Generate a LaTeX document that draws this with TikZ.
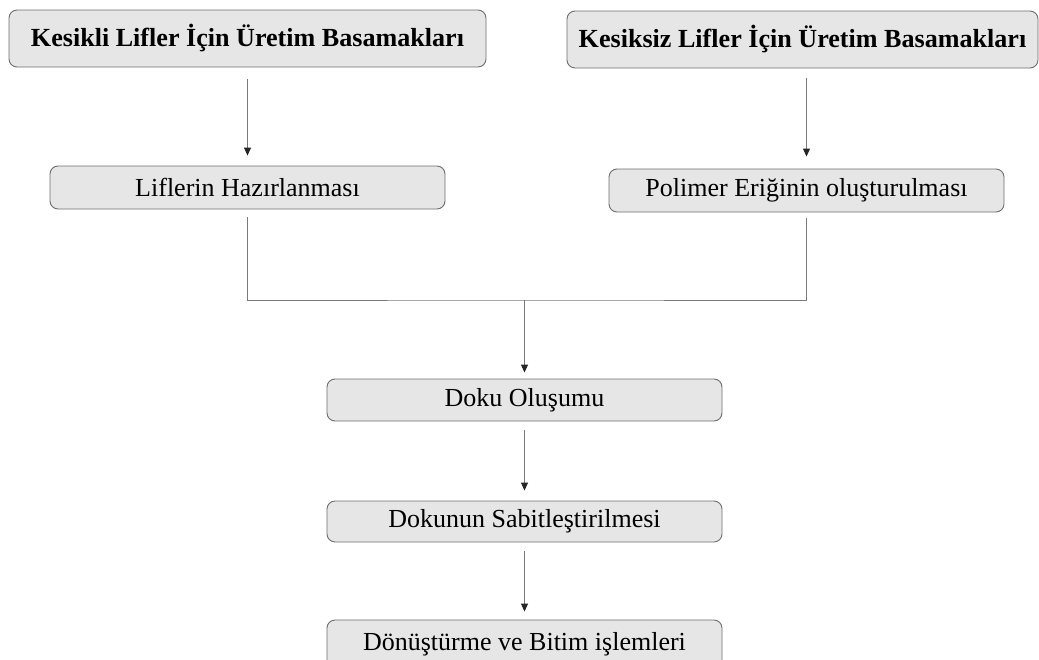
\documentclass[tikz,border=0pt]{standalone}
\usepackage{fontspec}
\setmainfont{Liberation Serif}
\usetikzlibrary{arrows.meta}
\definecolor{boxfill}{HTML}{E6E6E6}
\definecolor{boxline}{HTML}{6E6E6E}
\definecolor{wire}{HTML}{7A7A7A}
\tikzset{
  stagebox/.style={draw=boxline, line width=0.9pt, fill=boxfill, rounded corners=8pt,
    minimum width=395pt, minimum height=42pt, inner sep=0pt, font=\fontsize{26}{30}\selectfont},
  headbox/.style={stagebox, minimum height=57pt, font=\fontsize{26.1}{30}\selectfont\bfseries},
  wireline/.style={draw=wire, line width=1pt},
  flowarrow/.style={wireline, -{Triangle[length=8pt,width=7pt,color=black!85]}},
}
\begin{document}
\begin{tikzpicture}[x=1pt,y=-1pt]
  \useasboundingbox (0,0) rectangle (1039,659);
  % top row: the two production routes
  \node[headbox, minimum width=477pt] (b1) at (247.5,38.5) {Kesikli Lifler İçin Üretim Basamakları};
  \node[headbox, minimum width=471pt] (b2) at (802.5,39.5) {Kesiksiz Lifler İçin Üretim Basamakları};
  % preparation steps
  \node[stagebox, minimum height=43pt] (b3) at (247.5,187.5) {Liflerin Hazırlanması};
  \node[stagebox, minimum height=43pt] (b4) at (806.5,190.5) {Polimer Eriğinin oluşturulması};
  % common steps
  \node[stagebox] (b5) at (524.5,400) {Doku Oluşumu};
  \node[stagebox, minimum height=41pt] (b6) at (524.5,521.5) {Dokunun Sabitleştirilmesi};
  \node[stagebox, minimum height=48pt] (b7) at (524.5,644) {Dönüştürme ve Bitim işlemleri};
  \coordinate (m) at (524.5,300);
  % connectors
  \draw[flowarrow, shorten <=12pt, shorten >=10pt] (b1.south) -- (b1.south |- b3.north);
  \draw[flowarrow, shorten <=10pt, shorten >=12pt] (b4.north |- b2.south) -- (b4.north);
  \draw[wireline, shorten <=8pt, shorten >=6pt] (b3.south) |- (m) -| (b4.south);
  \draw[flowarrow, shorten >=6pt] (m) -- (b5.north);
  \draw[flowarrow, shorten <=9pt, shorten >=10pt] (b5.south) -- (b6.north);
  \draw[flowarrow, shorten <=9pt, shorten >=8pt] (b6.south) -- (b7.north);
\end{tikzpicture}
\end{document}
